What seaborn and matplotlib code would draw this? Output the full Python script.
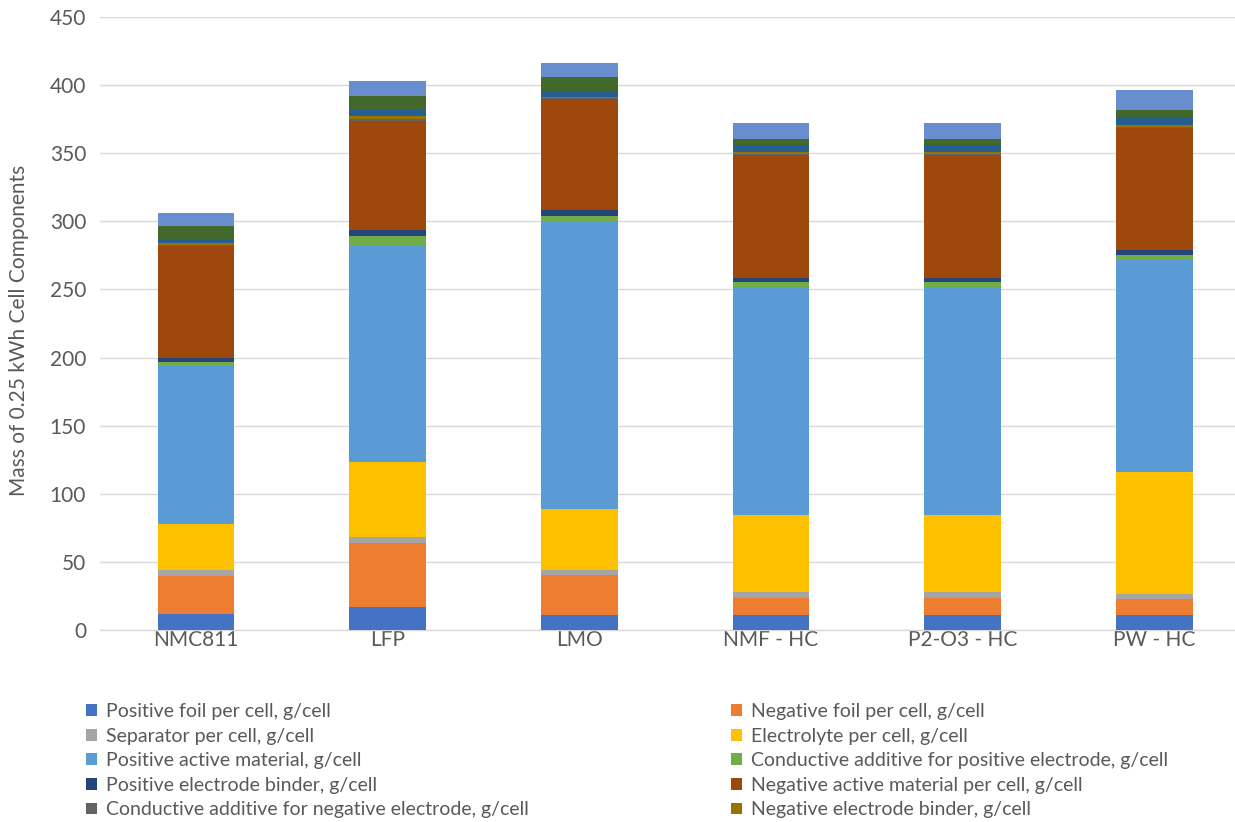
import numpy as np
import pandas as pd
import matplotlib
matplotlib.use("Agg")
import matplotlib.pyplot as plt
from matplotlib.patches import Patch
import seaborn as sns

# Cell chemistries on the x axis
chemistries = ["NMC811", "LFP", "LMO", "NMF - HC", "P2-O3 - HC", "PW - HC"]

# Component masses (g per 0.25 kWh cell), bottom of the stack first
positive_foil     = [12.0, 17.0, 11.0, 11.0, 11.0, 11.0]
negative_foil     = [28.0, 46.5, 29.5, 12.7, 12.7, 11.8]
separator         = [4.0, 4.5, 3.5, 4.2, 4.2, 3.9]
electrolyte       = [34.0, 55.0, 45.0, 56.3, 56.3, 89.0]
pos_active        = [116.5, 159.5, 211.0, 167.0, 167.0, 156.3]
pos_conductive    = [2.5, 7.0, 3.6, 4.0, 4.0, 3.2]
pos_binder        = [3.0, 4.0, 4.6, 3.0, 3.0, 3.7]
neg_active        = [82.0, 80.0, 81.6, 90.7, 90.7, 89.8]
neg_conductive    = [0.5, 1.7, 0.5, 0.3, 0.3, 0.3]
neg_binder        = [1.5, 2.2, 1.0, 1.5, 1.5, 1.6]
positive_tab      = [3.3, 4.2, 4.4, 5.1, 5.1, 5.7]
negative_tab      = [9.5, 10.5, 10.0, 4.5, 4.5, 5.4]
casing            = [9.0, 11.0, 10.8, 12.0, 12.0, 14.6]

components = [
    ("Positive foil per cell, g/cell", positive_foil, "#4472C4"),
    ("Negative foil per cell, g/cell", negative_foil, "#ED7D31"),
    ("Separator per cell, g/cell", separator, "#A5A5A5"),
    ("Electrolyte per cell, g/cell", electrolyte, "#FFC000"),
    ("Positive active material, g/cell", pos_active, "#5B9BD5"),
    ("Conductive additive for positive electrode, g/cell", pos_conductive, "#70AD47"),
    ("Positive electrode binder, g/cell", pos_binder, "#264478"),
    ("Negative active material per cell, g/cell", neg_active, "#9E480E"),
    ("Conductive additive for negative electrode, g/cell", neg_conductive, "#636363"),
    ("Negative electrode binder, g/cell", neg_binder, "#997300"),
    ("Positive tab per cell, g/cell", positive_tab, "#255E91"),
    ("Negative tab per cell, g/cell", negative_tab, "#43682B"),
    ("Casing per cell, g/cell", casing, "#698ED0"),
]
legend_count = 10

sns.set_theme(style="white")
plt.rcParams["font.family"] = ["Lato", "DejaVu Sans"]
text_color = "#595959"

fig = plt.figure(figsize=(12.35, 8.22), dpi=100)
ax = fig.add_axes([100 / 1235, 192 / 822, 1135 / 1235, 613 / 822])

# Stacked bars: draw the running totals from the tallest down so each
# layer shows only its own share.
values = np.array([c[1] for c in components])
totals = np.cumsum(values, axis=0)
for i in range(len(components) - 1, -1, -1):
    df = pd.DataFrame({"chemistry": chemistries, "mass": totals[i]})
    sns.barplot(data=df, x="chemistry", y="mass", order=chemistries,
                color=components[i][2], width=0.4, linewidth=0,
                saturation=1, errorbar=None, ax=ax, zorder=3)

ax.set_xlim(-0.5, 5.42)
ax.set_ylim(0, 450)
ax.set_yticks(np.arange(0, 451, 50))
ax.yaxis.grid(True, color="#D9D9D9", linewidth=1.0, zorder=0)
ax.xaxis.grid(False)
for side in ["left", "right", "top"]:
    ax.spines[side].set_visible(False)
ax.spines["bottom"].set_color("#D9D9D9")
ax.spines["bottom"].set_linewidth(1.0)
ax.tick_params(axis="both", length=0, labelsize=15, colors=text_color)
ax.tick_params(axis="y", pad=10)
ax.tick_params(axis="x", pad=0)
ax.set_xlabel("")
ax.set_ylabel("Mass of 0.25 kWh Cell Components", fontsize=15, color=text_color)
ax.yaxis.set_label_coords(-0.0626, 0.488)

# Two-column legend filled row by row
handles = [Patch(facecolor=c[2], edgecolor="none", label=c[0])
           for c in components[:legend_count]]
left_col = handles[0::2]
right_col = handles[1::2]
common = dict(loc="upper left", frameon=False, fontsize=14,
              handlelength=0.55, handleheight=0.55, handletextpad=0.5,
              labelspacing=0.39, borderpad=0, borderaxespad=0,
              labelcolor=text_color)
leg1 = fig.legend(handles=left_col, bbox_to_anchor=(86 / 1235, 1 - 703 / 822), **common)
leg2 = fig.legend(handles=right_col, bbox_to_anchor=(731 / 1235, 1 - 703 / 822), **common)

fig.savefig("out.png", dpi=100)
